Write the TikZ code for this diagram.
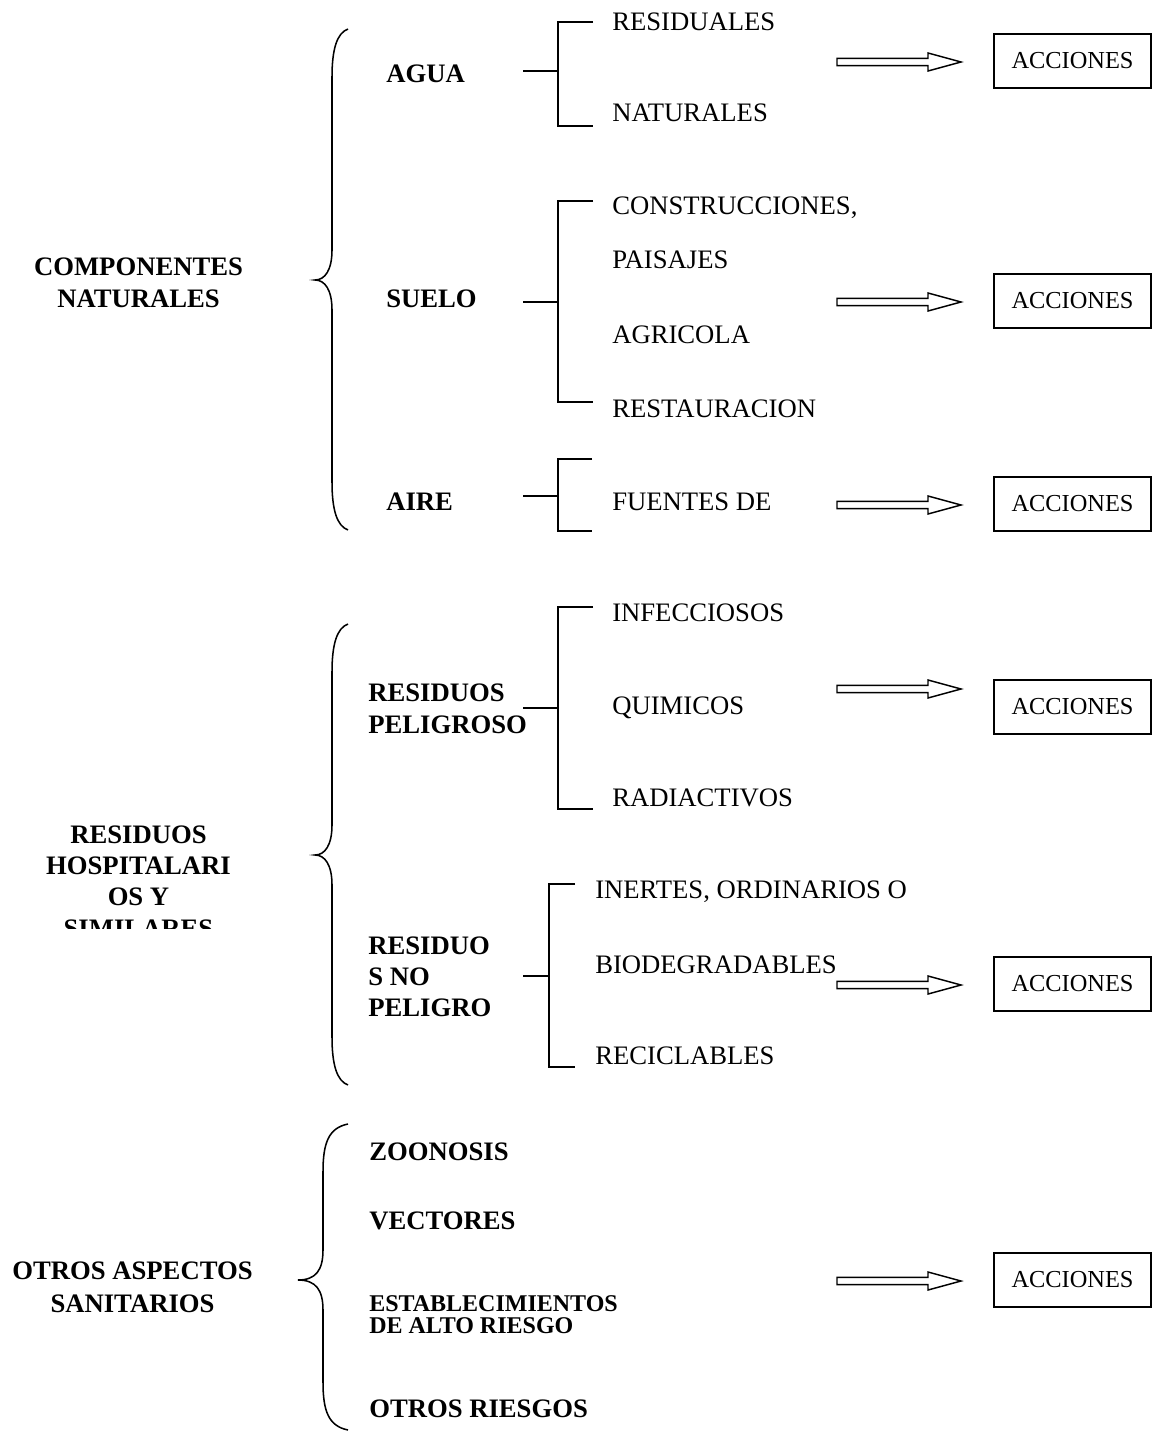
\documentclass[tikz,border=0pt]{standalone}
\usepackage{fontspec}
\setmainfont{Liberation Serif}
\begin{document}
\begin{tikzpicture}[x=0.75pt,y=-0.75pt,
  reg/.style={font=\fontsize{20}{23}\selectfont, inner sep=0pt, anchor=base west},
  bld/.style={font=\fontsize{20}{23.6}\selectfont\bfseries, inner sep=0pt, anchor=base west, align=left},
  bldc/.style={font=\fontsize{20}{24.6}\selectfont\bfseries, inner sep=0pt, anchor=base, align=center},
  sbld/.style={font=\fontsize{18}{16}\selectfont\bfseries, inner sep=0pt, anchor=base west, align=left},
  accbox/.style={draw, line width=1.3pt, minimum width=117.75pt, minimum height=40.5pt, inner sep=0pt, font=\fontsize{18.3}{21}\selectfont},
  brc/.style={line width=1.15pt},
  brk/.style={line width=1.4pt},
  blockarrow/.style={line width=1.1pt, line join=miter}
]
\useasboundingbox (0,0) rectangle (1154,1433);

% ---- braces
\newcommand{\mybrace}[6]{%
  \draw[brc] (#1,#4) .. controls ({#2+5},{#4+4}) and (#2,{#4+20}) .. (#2,{#4+48})
    -- (#2,{#5-30}) .. controls (#2,{#5-10}) and ({#2-7},#5) .. (#3,#5)
    .. controls ({#2-7},#5) and (#2,{#5+10}) .. (#2,{#5+30})
    -- (#2,{#6-48}) .. controls (#2,{#6-20}) and ({#2+5},{#6-4}) .. (#1,#6);}
\mybrace{348}{332}{315}{29}{280}{530}
\mybrace{348}{332}{315}{624}{855}{1085}
\mybrace{348}{323}{298}{1124}{1280}{1430}

% ---- brackets
\newcommand{\mybracket}[6]{% xstem xv xarm ytop ystem ybot
  \draw[brk] (#3,#4) -- (#2,#4) -- (#2,#6) -- (#3,#6);
  \draw[brk] (#1,#5) -- (#2,#5);}
\mybracket{523}{558}{593}{22}{71}{126}
\mybracket{523}{558}{593}{201}{302}{402}
\mybracket{523}{558}{592}{459}{496}{531}
\mybracket{523}{558}{593}{607}{708}{809}
\mybracket{523}{549}{575}{884}{976}{1067}

% ---- block arrows
\newcommand{\myarrow}[1]{%
  \draw[blockarrow] (837,{#1-3.7}) -- (928,{#1-3.7}) -- (928,{#1-9}) -- (961,#1)
    -- (928,{#1+9}) -- (928,{#1+3.7}) -- (837,{#1+3.7}) -- cycle;}
\myarrow{62}
\myarrow{302}
\myarrow{505}
\myarrow{689}
\myarrow{985}
\myarrow{1281}

% ---- ACCIONES boxes
\node[accbox] (acc1) at (1072.5,61) {ACCIONES};
\node[accbox] (acc2) at (1072.5,301) {ACCIONES};
\node[accbox] (acc3) at (1072.5,504) {ACCIONES};
\node[accbox] (acc4) at (1072.5,707) {ACCIONES};
\node[accbox] (acc5) at (1072.5,984) {ACCIONES};
\node[accbox] (acc6) at (1072.5,1280) {ACCIONES};

% ---- main categories (anchor = baseline of last line)
\node[bldc] (comp) at (138.5,308) {COMPONENTES\\NATURALES};
\begin{scope}
\clip (0,0) rectangle (310,928);
\node[bldc, font=\fontsize{20}{23.4}\selectfont\bfseries] (hosp) at (138.5,937) {RESIDUOS\\HOSPITALARI\\OS Y\\SIMILARES};
\end{scope}
\node[bldc] (otros) at (132.5,1312) {OTROS ASPECTOS\\SANITARIOS};

% ---- second level
\node[bld] (agua) at (386,83) {AGUA};
\node[bld] (suelo) at (386,308) {SUELO};
\node[bld] (aire) at (386,510) {AIRE};
\node[bld] (rpel) at (368,733) {RESIDUOS\\PELIGROSO};
\node[bld, font=\fontsize{20}{23}\selectfont\bfseries] (rnopel) at (368,1016) {RESIDUO\\S NO\\PELIGRO};
\node[bld] (zoo) at (369,1160) {ZOONOSIS};
\node[bld] (vec) at (369,1229) {VECTORES};
\node[sbld] (estab) at (369,1333) {ESTABLECIMIENTOS\\DE ALTO RIESGO};
\node[bld] (oriesg) at (369,1417) {OTROS RIESGOS};

% ---- third level
\node[reg] (t1) at (612,31) {RESIDUALES};
\node[reg] (t2) at (612,122) {NATURALES};
\node[reg] (t3) at (612,215) {CONSTRUCCIONES,};
\node[reg] (t4) at (612,269) {PAISAJES};
\node[reg] (t5) at (612,344) {AGRICOLA};
\node[reg] (t6) at (612,417) {RESTAURACION};
\node[reg] (t7) at (612,510) {FUENTES DE};
\node[reg] (t8) at (612,621) {INFECCIOSOS};
\node[reg] (t9) at (612,714) {QUIMICOS};
\node[reg] (t10) at (612,806) {RADIACTIVOS};
\node[reg] (t11) at (595,898) {INERTES, ORDINARIOS O};
\node[reg] (t12) at (595,973) {BIODEGRADABLES};
\node[reg] (t13) at (595,1064) {RECICLABLES};
\end{tikzpicture}
\end{document}
